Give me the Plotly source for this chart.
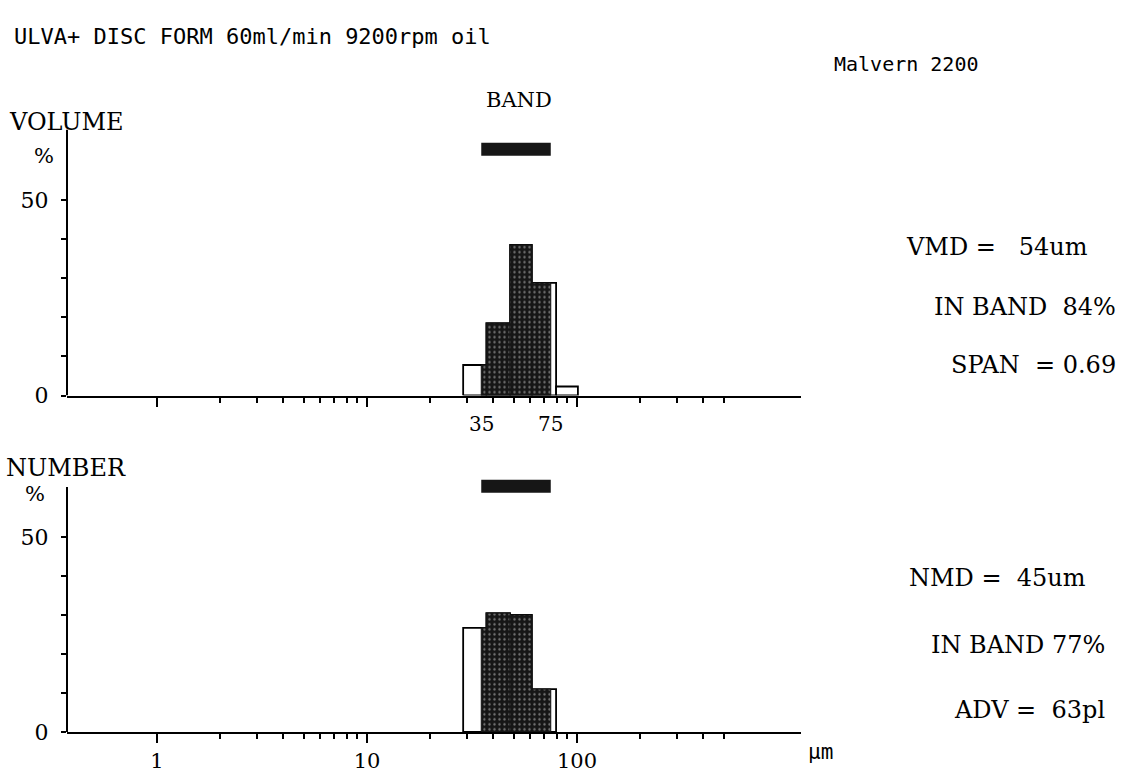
import plotly.graph_objects as go
import math

# ---------------- data ----------------
bin_edges = [28.7, 37, 48, 61, 79.5, 101]          # µm
volume_pct = [7.8, 18.5, 38.5, 28.8, 2.3]          # %
number_pct = [26.7, 30.5, 30.0, 11.0, 0.0]         # %
band = [35, 75]                                     # µm
band_level = 63                                     # % (band marker)
y_ticks = [0, 10, 20, 30, 40, 50]
y_ticktext = ["0", "", "", "", "", "50"]
x_major = [1, 10, 100]
x_major_text = ["1", "10", "100"]
x_minor = [2, 3, 4, 5, 6, 7, 8, 9, 20, 30, 40, 50, 60, 70, 80, 90, 200, 300, 400, 500]
band_labels = ["35", "75"]
title_text = "ULVA+ DISC FORM 60ml/min 9200rpm oil"
instrument = "Malvern 2200"
stats_volume = ["VMD =   54um", "IN BAND  84%", "SPAN  = 0.69"]
stats_number = ["NMD =  45um", "IN BAND 77%", "ADV =  63pl"]

# ---------------- layout helpers ----------------
W, H = 1132, 773
HC = 760  # vertical conversion height (compensates observed vertical compression)
def px(x):
    return x / W
def py(y):
    return 1 - y / HC

SERIF = "DejaVu Serif"
MONO = "DejaVu Sans Mono"
DARK = "#161616"

fig = go.Figure()

def add_panel(values, xa, ya):
    # outlined (white) bins
    for i, h in enumerate(values):
        if h <= 0:
            continue
        lo, hi = bin_edges[i], bin_edges[i + 1]
        fig.add_trace(go.Scatter(
            x=[lo, lo, hi, hi, lo], y=[0, h, h, 0, 0],
            mode="lines", fill="toself", fillcolor="white",
            line=dict(color="black", width=1.8),
            xaxis=xa, yaxis=ya, showlegend=False, hoverinfo="skip"))
    # shaded in-band parts
    for i, h in enumerate(values):
        if h <= 0:
            continue
        lo = max(bin_edges[i], band[0])
        hi = min(bin_edges[i + 1], band[1])
        if lo >= hi:
            continue
        fig.add_trace(go.Scatter(
            x=[lo, lo, hi, hi, lo], y=[0, h, h, 0, 0],
            mode="lines", fill="toself", fillcolor=DARK,
            fillpattern=dict(shape=".", fgcolor="#cfcfcf", bgcolor=DARK,
                             size=5, solidity=0.18),
            line=dict(color=DARK, width=1),
            xaxis=xa, yaxis=ya, showlegend=False, hoverinfo="skip"))
    # band marker
    fig.add_trace(go.Scatter(
        x=band, y=[band_level, band_level], mode="lines",
        line=dict(color=DARK, width=13),
        xaxis=xa, yaxis=ya, showlegend=False, hoverinfo="skip"))

add_panel(volume_pct, "x", "y")
add_panel(number_pct, "x2", "y2")

xrange = [(67 - 157) / 210, (801 - 157) / 210]
xdom = [px(67), px(801)]

xcommon = dict(type="log", range=xrange, domain=xdom, showgrid=False, zeroline=False,
               showline=True, linecolor="black", linewidth=2,
               ticks="outside", ticklen=9, tickwidth=2, tickcolor="black",
               tickvals=x_major,
               minor=dict(tickvals=x_minor, ticks="outside", ticklen=5,
                          tickwidth=1.5, tickcolor="black"),
               tickfont=dict(family=SERIF, size=21, color="black"))

ycommon = dict(range=[0, 68], showgrid=False, zeroline=False, showline=False,
               ticks="outside", ticklen=5, tickwidth=1.5, tickcolor="black",
               tickvals=y_ticks, ticktext=y_ticktext, ticklabelstandoff=8,
               tickfont=dict(family=SERIF, size=22, color="black"))

fig.update_layout(
    width=W, height=H, autosize=False, margin=dict(l=0, r=0, t=0, b=0),
    paper_bgcolor="white", plot_bgcolor="white",
    showlegend=False,
    xaxis=dict(xcommon, anchor="y", ticktext=["", "", ""]),
    yaxis=dict(ycommon, anchor="x", domain=[py(395.5), py(395.5 - 68 * 3.91)]),
    xaxis2=dict(xcommon, anchor="y2", ticktext=x_major_text),
    yaxis2=dict(ycommon, anchor="x2", domain=[py(732), py(732 - 68 * 3.9)]),
)

# vertical axis lines (shorter than plot area, as in original)
fig.add_shape(type="line", xref="x domain", yref="y", x0=0, x1=0, y0=0, y1=68,
              line=dict(color="black", width=2))
fig.add_shape(type="line", xref="x2 domain", yref="y2", x0=0, x1=0, y0=0, y1=62.8,
              line=dict(color="black", width=2))

ann = []
def text(s, x, y, family, size, xanchor="left"):
    ann.append(dict(text=s.replace(" ", "\u00a0"), x=px(x), y=py(y), xref="paper", yref="paper",
                    xanchor=xanchor, yanchor="middle", showarrow=False,
                    font=dict(family=family, size=size, color="black")))

text(title_text, 12, 37, MONO, 22)
text(instrument, 832, 64, MONO, 20)
text("BAND", 519, 100, SERIF, 21, "center")
text("VOLUME", 7, 122, SERIF, 24)
text("NUMBER", 4, 468, SERIF, 24)
text("%", 44, 156, SERIF, 21, "center")
text("%", 35, 494, SERIF, 21, "center")
text("\u03bcm", 820, 752, MONO, 21, "center")

for s, y, r in zip(stats_volume, [247, 307, 365], [1090, 1118, 1118]):
    text(s, r, y, SERIF, 24, "right")
for s, y, r in zip(stats_number, [578, 645, 710], [1088, 1107, 1107]):
    text(s, r, y, SERIF, 24, "right")

# band edge labels under the volume axis
for lbl, v in zip(band_labels, band):
    ann.append(dict(text=lbl, x=math.log10(v), y=0, xref="x", yref="y",
                    yshift=-28, xanchor="center", yanchor="middle", showarrow=False,
                    font=dict(family=SERIF, size=20, color="black")))

fig.update_layout(annotations=ann)
fig.write_html("out.html",
               config={"responsive": False, "displayModeBar": False},
               post_script="document.body.style.margin='0px';")
